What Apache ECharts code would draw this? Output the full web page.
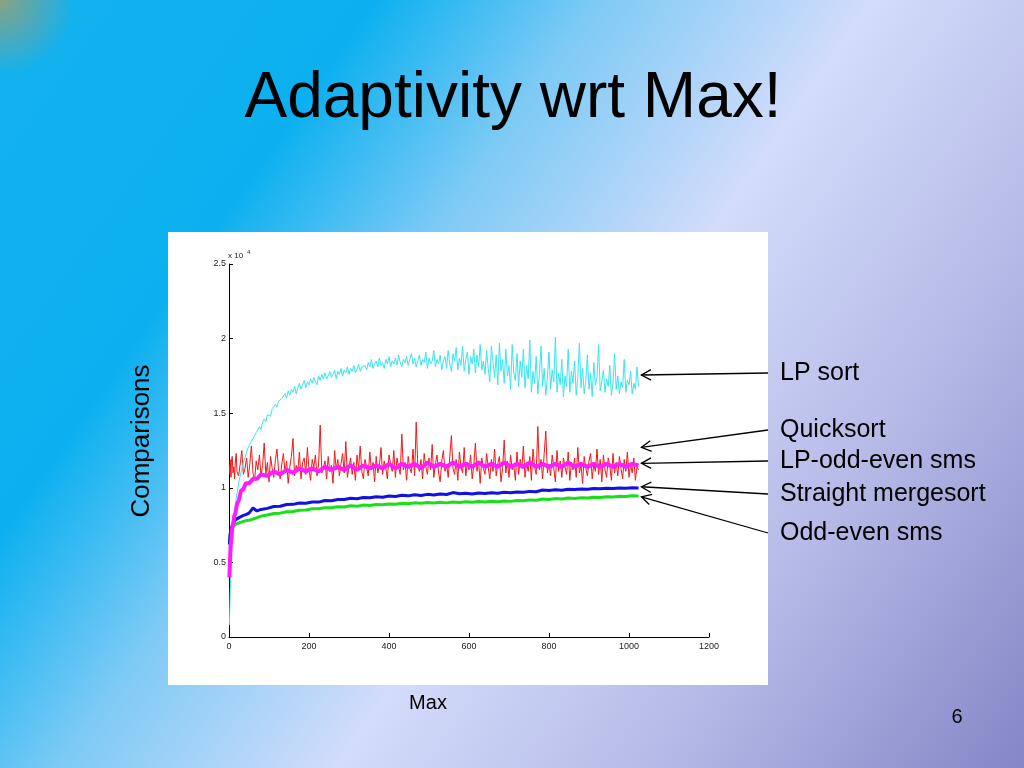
<!DOCTYPE html>
<html>
<head>
<meta charset="utf-8">
<script src="https://cdn.jsdelivr.net/npm/echarts@6/dist/echarts.min.js"></script>
<style>
html,body{margin:0;padding:0;}
#c{width:1024px;height:768px;
background:
 radial-gradient(circle at 0 0, rgba(150,160,118,0.9) 0px, rgba(150,160,118,0) 75px),
 linear-gradient(125deg, #14b2ee 0%, #0cb0f0 24%, #7ccaf5 38%, #d3dcfb 56%, #b6bae7 76%, #8486c6 100%);
}
</style>
</head>
<body>
<div id="c"></div>
<script>
// ---------- data (values in units of 10^4 comparisons) ----------
const X_FINE = [1,2,3,4,5,6,8,10,12,14,16,18,20,24,28,32,36,
40,44,48,52,56,60,64,68,72,76,80,84,88,92,96,100,104,108,112,116,120,124,128,132,136,
140,144,148,152,156,160,164,168,172,176,180,184,188,192,196,200,204,208,212,216,220,224,228,232,236,
240,244,248,252,256,260,264,268,272,276,280,284,288,292,296,300,304,308,312,316,320,324,328,332,336,
340,344,348,352,356,360,364,368,372,376,380,384,388,392,396,400,404,408,412,416,420,424,428,432,436,
440,444,448,452,456,460,464,468,472,476,480,484,488,492,496,500,504,508,512,516,520,524,528,532,536,
540,544,548,552,556,560,564,568,572,576,580,584,588,592,596,600,604,608,612,616,620,624,628,632,636,
640,644,648,652,656,660,664,668,672,676,680,684,688,692,696,700,704,708,712,716,720,724,728,732,736,
740,744,748,752,756,760,764,768,772,776,780,784,788,792,796,800,804,808,812,816,820,824,828,832,836,
840,844,848,852,856,860,864,868,872,876,880,884,888,892,896,900,904,908,912,916,920,924,928,932,936,
940,944,948,952,956,960,964,968,972,976,980,984,988,992,996,1000,1004,1008,1012,1016,1020,1024];

const X_COARSE = [1,2,3,4,6,8,10,13,16,20,25,30,36,42,50,60,70,80,
96,112,128,144,160,176,192,208,224,240,256,272,288,304,320,336,352,368,384,400,
416,432,448,464,480,496,512,528,544,560,576,592,608,624,640,656,672,688,704,720,
736,752,768,784,800,816,832,848,864,880,896,912,928,944,960,976,992,1008,1024];

const LP_SORT = [0.08,0.20,0.30,0.38,0.45,0.52,0.62,0.71,0.77,0.84,0.88,0.93,0.96,1.03,1.08,1.13,1.17,
1.20,1.24,1.27,1.26,1.31,1.33,1.32,1.37,1.38,1.41,1.39,1.44,1.46,1.44,1.49,1.50,1.48,1.53,1.52,1.56,1.54,1.58,1.57,1.60,1.59,
1.63,1.60,1.65,1.62,1.66,1.64,1.68,1.63,1.67,1.70,1.66,1.69,1.72,1.67,1.71,1.69,1.73,1.70,1.74,1.71,1.69,1.75,1.72,1.76,1.73,
1.77,1.73,1.75,1.78,1.74,1.76,1.79,1.73,1.78,1.76,1.80,1.75,1.79,1.77,1.81,1.76,1.80,1.78,1.82,1.77,1.79,1.83,1.78,1.81,1.80,
1.82,1.79,1.84,1.81,1.86,1.80,1.83,1.85,1.81,1.87,1.82,1.84,1.80,1.86,1.83,1.88,1.81,1.85,1.83,1.87,1.82,1.89,1.84,1.81,1.86,
1.84,1.88,1.82,1.86,1.90,1.83,1.87,1.81,1.85,1.89,1.82,1.86,1.84,1.91,1.80,1.87,1.83,1.85,1.92,1.81,1.86,1.83,1.89,1.79,1.85,
1.88,1.80,1.92,1.83,1.78,1.90,1.85,1.94,1.79,1.87,1.82,1.95,1.78,1.86,1.91,1.76,1.88,1.83,1.93,1.77,1.89,1.81,1.96,1.79,1.85,
1.76,1.92,1.80,1.71,1.95,1.84,1.74,1.89,1.69,1.97,1.78,1.86,1.70,1.93,1.75,1.82,1.66,1.96,1.77,1.72,1.90,1.68,1.85,1.74,1.93,
1.67,1.82,1.73,1.99,1.64,1.78,1.70,1.88,1.63,1.76,1.95,1.68,1.80,1.62,1.74,1.91,1.66,1.79,1.71,2.01,1.64,1.77,1.69,1.86,1.61,
1.75,1.68,1.93,1.64,1.78,1.70,1.85,1.62,1.74,1.97,1.67,1.80,1.63,1.72,1.89,1.66,1.77,1.61,1.84,1.69,1.74,1.96,1.65,1.71,1.79,
1.64,1.73,1.68,1.82,1.62,1.70,1.90,1.66,1.75,1.63,1.71,1.67,1.86,1.64,1.72,1.69,1.78,1.63,1.70,1.66,1.81,1.68];

const QUICKSORT = [1.15,1.09,1.19,1.12,1.07,1.17,1.21,1.10,1.14,1.06,1.18,1.23,1.11,1.08,1.16,1.25,1.09,
1.13,1.20,1.07,1.16,1.28,1.10,1.05,1.18,1.12,1.22,1.08,1.15,1.30,1.09,1.17,1.04,1.21,1.13,1.07,1.19,1.26,1.11,1.06,1.16,1.23,
1.10,1.18,1.03,1.14,1.21,1.33,1.08,1.15,1.11,1.24,1.06,1.17,1.20,1.09,1.27,1.12,1.05,1.19,1.14,1.22,1.08,1.16,1.42,1.10,1.13,
1.18,1.06,1.21,1.11,1.15,1.03,1.25,1.12,1.19,1.08,1.16,1.23,1.10,1.31,1.07,1.14,1.20,1.09,1.17,1.05,1.22,1.13,1.28,1.11,1.06,
1.19,1.14,1.08,1.24,1.12,1.17,1.04,1.21,1.10,1.15,1.27,1.09,1.18,1.13,1.06,1.22,1.16,1.11,1.25,1.07,1.20,1.14,1.09,1.36,1.12,
1.17,1.05,1.21,1.13,1.10,1.26,1.08,1.44,1.15,1.11,1.19,1.06,1.23,1.14,1.09,1.20,1.12,1.29,1.07,1.16,1.22,1.10,1.04,1.18,1.25,
1.11,1.16,1.07,1.21,1.35,1.13,1.09,1.19,1.05,1.24,1.14,1.10,1.27,1.08,1.17,1.12,1.22,1.06,1.15,1.30,1.11,1.18,1.03,1.20,1.13,
1.09,1.23,1.14,1.06,1.19,1.11,1.26,1.08,1.16,1.21,1.04,1.13,1.32,1.10,1.18,1.07,1.22,1.12,1.15,1.05,1.24,1.09,1.19,1.13,1.28,
1.07,1.17,1.11,1.21,1.05,1.26,1.14,1.09,1.41,1.12,1.19,1.06,1.23,1.38,1.10,1.16,1.08,1.22,1.13,1.04,1.25,1.11,1.18,1.07,1.20,
1.14,1.09,1.24,1.05,1.17,1.12,1.20,1.07,1.27,1.10,1.15,1.03,1.21,1.13,1.08,1.18,1.23,1.06,1.16,1.11,1.26,1.09,1.19,1.04,1.22,
1.12,1.07,1.20,1.15,1.05,1.23,1.10,1.17,1.08,1.21,1.13,1.06,1.19,1.11,1.24,1.07,1.16,1.10,1.20,1.05,1.14,1.12];

const LP_ODD_EVEN = [0.40,0.49,0.54,0.61,0.66,0.73,0.75,0.81,0.83,0.89,0.92,0.98,0.99,1.03,1.03,1.06,1.06,1.09,
1.08,1.11,1.09,1.12,1.10,1.13,1.11,1.13,1.11,1.14,1.12,1.14,1.12,1.15,1.12,1.15,1.13,1.15,1.13,1.16,
1.13,1.16,1.14,1.16,1.13,1.17,1.14,1.16,1.14,1.17,1.14,1.16,1.14,1.17,1.14,1.16,1.14,1.17,1.14,1.16,
1.14,1.17,1.14,1.16,1.14,1.16,1.14,1.17,1.14,1.16,1.14,1.16,1.14,1.16,1.14,1.16,1.14,1.16,1.15];

const STRAIGHT_MERGE = [0.62,0.66,0.69,0.70,0.73,0.74,0.76,0.77,0.785,0.79,0.80,0.81,0.815,0.82,0.83,0.865,0.845,0.855,
0.862,0.875,0.876,0.888,0.889,0.898,0.897,0.905,0.904,0.915,0.913,0.922,0.921,0.930,0.926,0.935,0.933,0.940,0.937,0.945,
0.942,0.950,0.946,0.953,0.949,0.956,0.952,0.958,0.955,0.968,0.960,0.963,0.958,0.965,0.962,0.967,0.964,0.970,0.967,0.972,
0.970,0.976,0.974,0.985,0.982,0.987,0.984,0.990,0.988,0.992,0.990,0.995,0.993,0.997,0.995,0.999,0.997,1.000,0.999];

const ODD_EVEN = [0.64,0.67,0.69,0.70,0.72,0.73,0.74,0.75,0.755,0.76,0.765,0.77,0.775,0.78,0.783,0.79,0.80,0.81,
0.818,0.828,0.830,0.840,0.841,0.850,0.851,0.859,0.859,0.867,0.866,0.873,0.872,0.879,0.877,0.884,0.882,0.888,0.886,0.892,
0.890,0.896,0.893,0.899,0.896,0.901,0.898,0.903,0.899,0.905,0.901,0.906,0.903,0.908,0.905,0.910,0.907,0.912,0.909,0.915,
0.913,0.919,0.917,0.925,0.922,0.928,0.925,0.931,0.929,0.934,0.932,0.937,0.935,0.940,0.938,0.943,0.941,0.946,0.945];

const LABELS = ['LP sort','Quicksort','LP-odd-even sms','Straight mergesort','Odd-even sms'];
const ARROW_X = 1031;
const ARROW_TARGET = [1.756,1.271,1.164,1.007,0.940];

const TITLE = 'Adaptivity wrt Max!';
const Y_NAME = 'Comparisons';
const X_NAME = 'Max';
const PAGE = '6';

// ---------- chart ----------
const FONT = '"Liberation Sans", Arial, sans-serif';
const chart = echarts.init(document.getElementById('c'), null, {renderer:'canvas'});
const pairs = (xs, ys) => xs.map((x, i) => [x, ys[i]]);

function lineSeries(name, xs, ys, color, width, z) {
  return {
    name, type:'line', data: pairs(xs, ys), showSymbol:false, symbol:'none',
    lineStyle:{color, width}, itemStyle:{color}, z, animation:false, silent:true
  };
}

const axisCommon = {
  axisLine:{show:true, lineStyle:{color:'#000', width:1}},
  axisTick:{show:true, inside:true, length:4, lineStyle:{color:'#000'}},
  splitLine:{show:false}
};
const tickLabel = {fontSize:9, color:'#222', fontFamily:FONT, formatter:(v) => String(v)};

const labelY = [373, 430, 461, 494, 533];

const staticGraphics = [
  {id:'paper', type:'rect', z:-10, shape:{x:168, y:232, width:600, height:453}, style:{fill:'#ffffff'}},
  {id:'title', type:'text', x:513, y:99, style:{text:TITLE, font:'64px ' + FONT, fill:'#000', textAlign:'center', textVerticalAlign:'middle'}},
  {id:'yname', type:'text', x:142, y:441, rotation:Math.PI/2, style:{text:Y_NAME, font:'26px ' + FONT, fill:'#000', textAlign:'center', textVerticalAlign:'middle'}},
  {id:'xname', type:'text', x:428, y:703, style:{text:X_NAME, font:'20px ' + FONT, fill:'#000', textAlign:'center', textVerticalAlign:'middle'}},
  {id:'page', type:'text', x:957, y:717, style:{text:PAGE, font:'20px ' + FONT, fill:'#000', textAlign:'center', textVerticalAlign:'middle'}},
  {id:'exp1', type:'text', x:228, y:256, style:{text:'x 10', font:'8px ' + FONT, fill:'#222', textAlign:'left', textVerticalAlign:'middle'}},
  {id:'exp2', type:'text', x:247, y:252, style:{text:'4', font:'6px ' + FONT, fill:'#222', textAlign:'left', textVerticalAlign:'middle'}}
].concat(LABELS.map((t, i) => ({
  id:'lab' + i, type:'text', x:780, y:labelY[i],
  style:{text:t, font:'25px ' + FONT, fill:'#000', textAlign:'left', textVerticalAlign:'middle'}
})));

chart.setOption({
  animation:false,
  backgroundColor:'transparent',
  grid:{left:229, top:264, width:480, height:373, containLabel:false},
  xAxis:Object.assign({type:'value', min:0, max:1200, interval:200}, axisCommon,
    {axisLabel:Object.assign({}, tickLabel, {margin:5})}),
  yAxis:Object.assign({type:'value', min:0, max:2.5, interval:0.5}, axisCommon,
    {axisLabel:Object.assign({}, tickLabel, {margin:3})}),
  series:[
    lineSeries(LABELS[1], X_FINE, QUICKSORT, '#f01818', 1, 2),
    lineSeries(LABELS[0], X_FINE, LP_SORT, '#3ae4ee', 1, 3),
    lineSeries(LABELS[4], X_COARSE, ODD_EVEN, '#18e018', 3, 4),
    lineSeries(LABELS[3], X_COARSE, STRAIGHT_MERGE, '#1010e8', 3, 5),
    lineSeries(LABELS[2], X_COARSE, LP_ODD_EVEN, '#ff1cff', 4, 6)
  ],
  graphic:staticGraphics
});

// arrows from labels to the series ends, tips computed from the data scale
const arrows = [];
LABELS.forEach((t, i) => {
  const tip = chart.convertToPixel({gridIndex:0}, [ARROW_X, ARROW_TARGET[i]]);
  const start = [768, labelY[i]];
  const dx = start[0] - tip[0], dy = start[1] - tip[1];
  const L = Math.sqrt(dx*dx + dy*dy);
  const ux = dx / L, uy = dy / L;
  const hl = 11, ang = 0.5;
  const c = Math.cos(ang), s = Math.sin(ang);
  const a1 = [tip[0] + hl*(ux*c - uy*s), tip[1] + hl*(ux*s + uy*c)];
  const a2 = [tip[0] + hl*(ux*c + uy*s), tip[1] + hl*(-ux*s + uy*c)];
  arrows.push({id:'shaft' + i, type:'line', shape:{x1:start[0], y1:start[1], x2:tip[0], y2:tip[1]}, style:{stroke:'#000', lineWidth:1.3}, z:10});
  arrows.push({id:'head' + i, type:'polyline', shape:{points:[a1, tip, a2]}, style:{stroke:'#000', lineWidth:1.3, fill:null}, z:10});
});
chart.setOption({graphic:staticGraphics.concat(arrows)});
</script>
</body>
</html>
